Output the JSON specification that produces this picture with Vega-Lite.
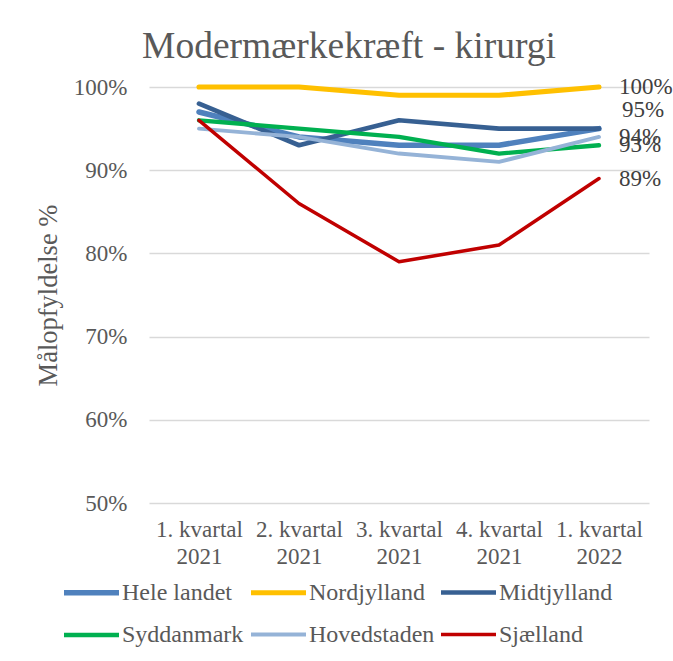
{
  "$schema": "https://vega.github.io/schema/vega-lite/v6.json",
  "autosize": {"type": "none"},
  "width": 500,
  "height": 416,
  "padding": {"left": 149, "top": 87, "right": 24, "bottom": 158},
  "background": "white",
  "title": {
    "text": "Modermærkekræft - kirurgi",
    "font": "Times New Roman",
    "fontSize": 37.5,
    "fontWeight": "normal",
    "color": "#595959",
    "anchor": "middle",
    "frame": "group",
    "dx": -50,
    "offset": 11
  },
  "data": {
    "values": [
      {"kvartal": "1. kvartal 2021", "serie": "Hele landet", "pct": 97},
      {"kvartal": "2. kvartal 2021", "serie": "Hele landet", "pct": 94},
      {"kvartal": "3. kvartal 2021", "serie": "Hele landet", "pct": 93},
      {"kvartal": "4. kvartal 2021", "serie": "Hele landet", "pct": 93},
      {"kvartal": "1. kvartal 2022", "serie": "Hele landet", "pct": 95},
      {"kvartal": "1. kvartal 2021", "serie": "Nordjylland", "pct": 100},
      {"kvartal": "2. kvartal 2021", "serie": "Nordjylland", "pct": 100},
      {"kvartal": "3. kvartal 2021", "serie": "Nordjylland", "pct": 99},
      {"kvartal": "4. kvartal 2021", "serie": "Nordjylland", "pct": 99},
      {"kvartal": "1. kvartal 2022", "serie": "Nordjylland", "pct": 100},
      {"kvartal": "1. kvartal 2021", "serie": "Midtjylland", "pct": 98},
      {"kvartal": "2. kvartal 2021", "serie": "Midtjylland", "pct": 93},
      {"kvartal": "3. kvartal 2021", "serie": "Midtjylland", "pct": 96},
      {"kvartal": "4. kvartal 2021", "serie": "Midtjylland", "pct": 95},
      {"kvartal": "1. kvartal 2022", "serie": "Midtjylland", "pct": 95},
      {"kvartal": "1. kvartal 2021", "serie": "Syddanmark", "pct": 96},
      {"kvartal": "2. kvartal 2021", "serie": "Syddanmark", "pct": 95},
      {"kvartal": "3. kvartal 2021", "serie": "Syddanmark", "pct": 94},
      {"kvartal": "4. kvartal 2021", "serie": "Syddanmark", "pct": 92},
      {"kvartal": "1. kvartal 2022", "serie": "Syddanmark", "pct": 93},
      {"kvartal": "1. kvartal 2021", "serie": "Hovedstaden", "pct": 95},
      {"kvartal": "2. kvartal 2021", "serie": "Hovedstaden", "pct": 94},
      {"kvartal": "3. kvartal 2021", "serie": "Hovedstaden", "pct": 92},
      {"kvartal": "4. kvartal 2021", "serie": "Hovedstaden", "pct": 91},
      {"kvartal": "1. kvartal 2022", "serie": "Hovedstaden", "pct": 94},
      {"kvartal": "1. kvartal 2021", "serie": "Sjælland", "pct": 96},
      {"kvartal": "2. kvartal 2021", "serie": "Sjælland", "pct": 86},
      {"kvartal": "3. kvartal 2021", "serie": "Sjælland", "pct": 79},
      {"kvartal": "4. kvartal 2021", "serie": "Sjælland", "pct": 81},
      {"kvartal": "1. kvartal 2022", "serie": "Sjælland", "pct": 89}
    ]
  },
  "encoding": {
    "x": {
      "field": "kvartal",
      "type": "ordinal",
      "sort": null,
      "scale": {"type": "point", "padding": 0.5},
      "axis": {
        "title": null,
        "labelAngle": 0,
        "labelExpr": "[slice(datum.label, 0, 10), slice(datum.label, 11)]",
        "labelLineHeight": 27,
        "labelPadding": 15,
        "ticks": false,
        "domain": false,
        "grid": false
      }
    },
    "y": {
      "field": "pct",
      "type": "quantitative",
      "scale": {"domain": [50, 100], "nice": false, "zero": false},
      "axis": {
        "title": "Målopfyldelse %",
        "values": [50, 60, 70, 80, 90, 100],
        "labelExpr": "datum.value + '%'",
        "labelPadding": 22,
        "titlePadding": 11,
        "titleFontSize": 26.5,
        "ticks": false,
        "domain": false,
        "grid": true
      }
    }
  },
  "layer": [
    {
      "mark": {"type": "line", "strokeCap": "round", "strokeJoin": "round"},
      "encoding": {
        "color": {
          "field": "serie",
          "type": "nominal",
          "scale": {
            "domain": ["Hele landet", "Nordjylland", "Midtjylland", "Syddanmark", "Hovedstaden", "Sjælland"],
            "range": ["#4F81BD", "#FFC000", "#376092", "#00B050", "#95B3D7", "#C00000"]
          },
          "legend": {
            "title": null,
            "orient": "none",
            "legendX": -88,
            "legendY": 475,
            "direction": "horizontal",
            "columns": 3,
            "gridAlign": "each",
            "columnPadding": -4,
            "rowPadding": -14,
            "symbolType": "stroke",
            "symbolSize": 3025,
            "labelOffset": 0,
            "labelFontSize": 24,
            "labelLimit": 300
          }
        },
        "strokeWidth": {
          "field": "serie",
          "type": "nominal",
          "scale": {
            "domain": ["Hele landet", "Nordjylland", "Midtjylland", "Syddanmark", "Hovedstaden", "Sjælland"],
            "range": [5.5, 3.5, 3.5, 3.5, 3.5, 3.5]
          },
          "legend": null
        },
        "order": {"field": "serie"}
      }
    },
    {
      "transform": [
        {"filter": "datum.kvartal == '1. kvartal 2022' && datum.serie != 'Midtjylland' && datum.serie != 'Hele landet'"},
        {"calculate": "datum.pct + '%'", "as": "etiket"}
      ],
      "mark": {"type": "text", "align": "left", "baseline": "middle", "dx": 20, "font": "Times New Roman", "fontSize": 23, "color": "#404040"},
      "encoding": {"text": {"field": "etiket", "type": "nominal"}}
    },
    {
      "transform": [
        {"filter": "datum.kvartal == '1. kvartal 2022' && datum.serie == 'Hele landet'"},
        {"calculate": "datum.pct + '%'", "as": "etiket"}
      ],
      "mark": {"type": "text", "align": "left", "baseline": "middle", "dx": 23, "dy": -19, "font": "Times New Roman", "fontSize": 23, "color": "#404040"},
      "encoding": {"text": {"field": "etiket", "type": "nominal"}}
    }
  ],
  "config": {
    "font": "Times New Roman",
    "view": {"stroke": null},
    "axis": {
      "labelFont": "Times New Roman",
      "labelFontSize": 23,
      "labelColor": "#595959",
      "titleFont": "Times New Roman",
      "titleFontWeight": "normal",
      "titleColor": "#595959",
      "gridColor": "#D9D9D9",
      "gridWidth": 1.3
    },
    "legend": {
      "labelFont": "Times New Roman",
      "labelColor": "#595959"
    }
  }
}
